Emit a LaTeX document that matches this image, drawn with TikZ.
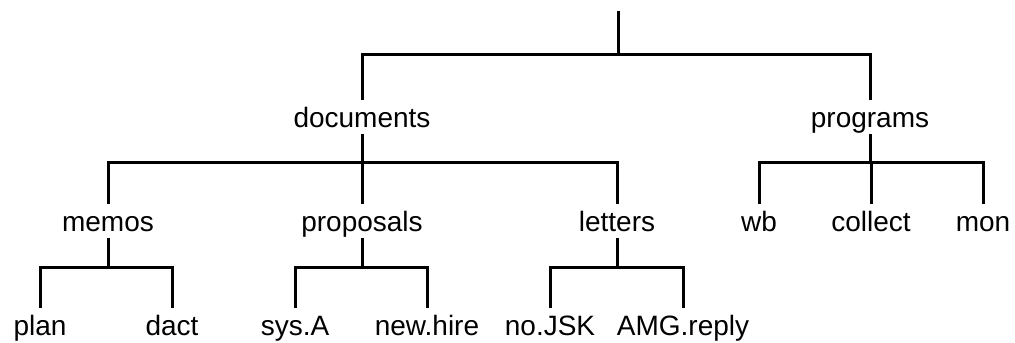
\documentclass[tikz,border=0pt]{standalone}
\usepackage{fontspec}
\setmainfont{Liberation Sans}
\usepackage{tikz}

\begin{document}
\begin{tikzpicture}[x=0.5pt, y=-0.5pt,
  every node/.style={anchor=base, inner sep=0pt, text height=13.5pt, text depth=3.5pt, font=\fontsize{14}{16}\selectfont},
  rama/.style={line width=1.5pt}]
              \useasboundingbox (0,0) rectangle (1015,342);
              % Nodos
              \coordinate (raiz) at (618,11);
              \node (documents) at (362,127) {documents};
              \node (programs) at (870,127) {programs};
              \node (memos) at (108,231) {memos};
              \node (proposals) at (362,231) {proposals};
              \node (letters) at (617,231) {letters};
              \node (wb) at (759,231) {wb};
              \node (collect) at (871,231) {collect};
              \node (mon) at (983,231) {mon};
              \node (plan) at (40,335) {plan};
              \node (dact) at (172,335) {dact};
              \node (sysA) at (295,335) {sys.A};
              \node (newhire) at (427,335) {new.hire};
              \node (noJSK) at (550,335) {no.JSK};
              \node (AMGreply) at (683,335) {AMG.reply};

              % Barras
              \coordinate (b0) at (618,55);
              \coordinate (b1) at (362,162);
              \coordinate (b2) at (870,162);
              \coordinate (b3) at (108,267);
              \coordinate (b4) at (362,267);
              \coordinate (b5) at (617,267);

              % Ramas
              \draw[rama] (raiz) -- (b0);
              \draw[rama] (b0) -| (documents.north);
              \draw[rama] (b0) -| (programs.north);
              \draw[rama] (documents.south) -- (b1);
              \draw[rama] (b1) -| (memos.north);
              \draw[rama] (b1) -- (proposals.north);
              \draw[rama] (b1) -| (letters.north);
              \draw[rama] (programs.south) -- (b2);
              \draw[rama] (b2) -| (wb.north);
              \draw[rama] (b2) -| (collect.north);
              \draw[rama] (b2) -| (mon.north);
              \draw[rama] (memos.south) -- (b3);
              \draw[rama] (b3) -| (plan.north);
              \draw[rama] (b3) -| (dact.north);
              \draw[rama] (proposals.south) -- (b4);
              \draw[rama] (b4) -| (sysA.north);
              \draw[rama] (b4) -| (newhire.north);
              \draw[rama] (letters.south) -- (b5);
              \draw[rama] (b5) -| (noJSK.north);
              \draw[rama] (b5) -| (AMGreply.north);
\end{tikzpicture}
\end{document}
